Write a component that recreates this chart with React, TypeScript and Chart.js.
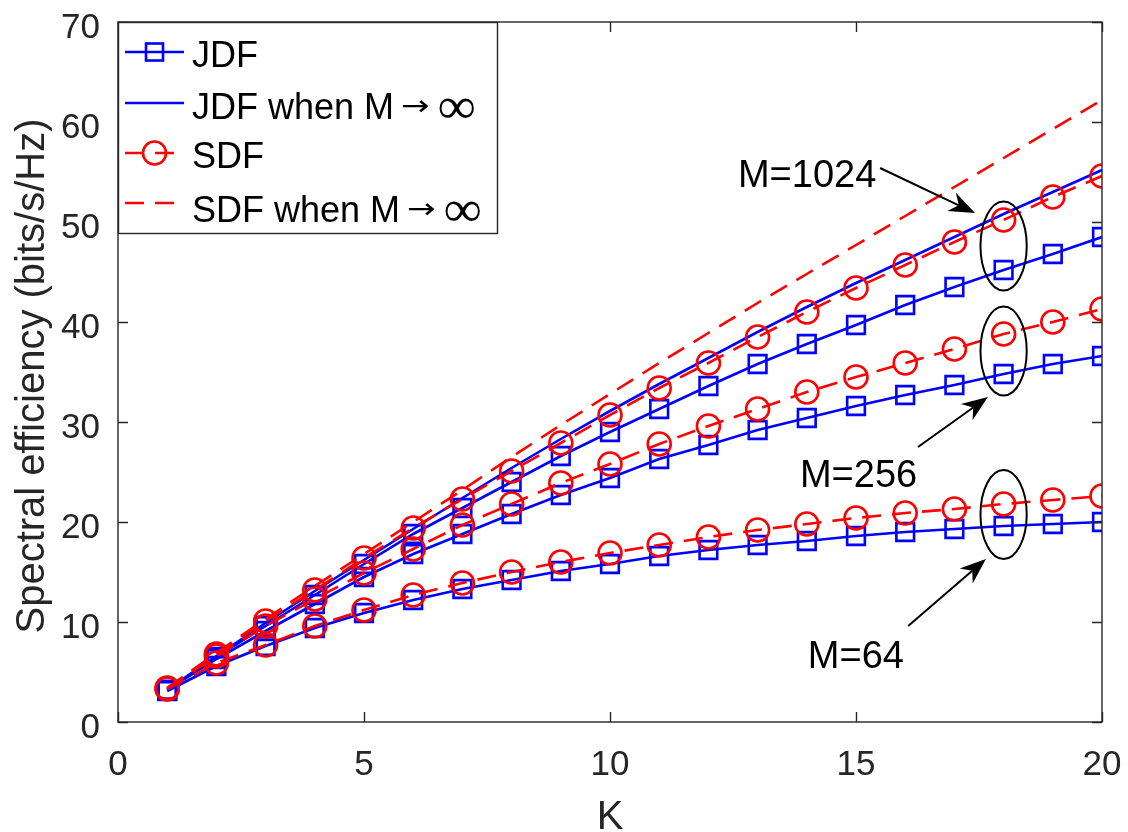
import React, { useEffect, useRef } from "react";
import { Chart, registerables } from "chart.js";

Chart.register(...registerables);

const kValues = [1, 2, 3, 4, 5, 6, 7, 8, 9, 10, 11, 12, 13, 14, 15, 16, 17, 18, 19, 20];
const jdf64 = [3.1, 5.6, 7.6, 9.4, 10.9, 12.2, 13.3, 14.2, 15.1, 15.8, 16.6, 17.2, 17.7, 18.1, 18.6, 19.0, 19.3, 19.6, 19.8, 20.0];
const sdf64 = [3.3, 5.9, 7.7, 9.6, 11.2, 12.7, 13.9, 15.0, 16.0, 16.9, 17.7, 18.5, 19.2, 19.8, 20.4, 20.9, 21.3, 21.8, 22.2, 22.6];
const jdf256 = [3.2, 6.3, 9.1, 11.8, 14.5, 16.8, 18.8, 20.8, 22.7, 24.4, 26.3, 27.7, 29.2, 30.4, 31.6, 32.7, 33.7, 34.8, 35.8, 36.6];
const sdf256 = [3.35, 6.6, 9.6, 12.3, 14.9, 17.3, 19.7, 21.8, 23.9, 25.8, 27.8, 29.6, 31.3, 33.0, 34.5, 35.9, 37.3, 38.8, 40.0, 41.3];
const jdf1024 = [3.2, 6.5, 9.6, 12.7, 15.8, 18.8, 21.4, 24.0, 26.6, 29.0, 31.3, 33.6, 35.8, 37.8, 39.7, 41.7, 43.5, 45.2, 46.8, 48.5];
const sdf1024 = [3.4, 6.8, 10.1, 13.2, 16.4, 19.4, 22.3, 25.1, 27.9, 30.7, 33.4, 35.9, 38.5, 41.0, 43.4, 45.7, 48.0, 50.2, 52.5, 54.6];
const jdfInf = [3.25, 6.6, 9.9, 13.1, 16.2, 19.3, 22.4, 25.4, 28.3, 31.1, 33.8, 36.4, 39.0, 41.5, 43.9, 46.2, 48.5, 50.8, 53.0, 55.2];
const sdfInf = [3.4, 6.9, 10.3, 13.6, 16.8, 20.0, 23.2, 26.5, 29.7, 32.8, 35.9, 38.9, 41.9, 44.8, 47.7, 50.6, 53.5, 56.4, 59.3, 62.2];

const xTicks = [0, 5, 10, 15, 20];
const yTicks = [0, 10, 20, 30, 40, 50, 60, 70];
const xTickLabels = ["0", "5", "10", "15", "20"];
const yTickLabels = ["0", "10", "20", "30", "40", "50", "60", "70"];
const xTitle = "K";
const yTitle = "Spectral efficiency (bits/s/Hz)";

const legendLabels = ["JDF", "JDF when M→∞", "SDF", "SDF when M→∞"];
const groupLabels = ["M=1024", "M=256", "M=64"];
const groupEllipseK = 18;
const groupEllipseCenters = [47.6, 37.1, 20.75];
// label anchor (K, value) and arrow start/end (K, value)
const groupLabelPos = [
  [12.6, 53.5],
  [13.86, 23.5],
  [14.02, 5.4],
];
const groupArrowFrom = [
  [15.49, 55.4],
  [16.26, 27.5],
  [16.06, 9.6],
];
const groupArrowTo = [
  [17.42, 50.9],
  [17.68, 32.5],
  [17.64, 16.3],
];

const BLUE = "#0000ff";
const RED = "#ff0000";
const AXIS = "#262626";
const SANS = '"Liberation Sans", Arial, Helvetica, sans-serif';

function toPts(arr: number[]) {
  return kValues.map((k, i) => ({ x: k, y: arr[i] }));
}

function series(label: string, arr: number[], color: string, marker: string | false, dashed: boolean) {
  return {
    label,
    data: toPts(arr),
    borderColor: color,
    backgroundColor: color,
    borderWidth: 2.6,
    borderDash: dashed ? [19, 11] : [],
    pointStyle: marker || "circle",
    pointRadius: marker ? (marker === "rect" ? 12.5 : 11.5) : 0,
    pointHoverRadius: marker ? (marker === "rect" ? 12.5 : 11.5) : 0,
    pointBorderColor: color,
    pointBorderWidth: 2.6,
    pointBackgroundColor: "rgba(0,0,0,0)",
    tension: 0,
    fill: false,
  };
}

function drawArrow(ctx: CanvasRenderingContext2D, x1: number, y1: number, x2: number, y2: number) {
  const ang = Math.atan2(y2 - y1, x2 - x1);
  const L = 26;
  const W = 10;
  const back = 18;
  const c = Math.cos(ang);
  const s = Math.sin(ang);
  ctx.beginPath();
  ctx.moveTo(x1, y1);
  ctx.lineTo(x2 - c * back, y2 - s * back);
  ctx.stroke();
  const bx = x2 - c * L;
  const by = y2 - s * L;
  const nx = -s;
  const ny = c;
  ctx.beginPath();
  ctx.moveTo(x2, y2);
  ctx.lineTo(bx + nx * W, by + ny * W);
  ctx.lineTo(x2 - c * back, y2 - s * back);
  ctx.lineTo(bx - nx * W, by - ny * W);
  ctx.closePath();
  ctx.fill();
}

// draw a single glyph so that its ink box spans inkW x inkH px, centred vertically at cy
function fitGlyph(ctx: CanvasRenderingContext2D, ch: string, font: string, x: number, cy: number, inkW: number, inkH: number) {
  ctx.font = font;
  const m = ctx.measureText(ch);
  const l = m.actualBoundingBoxLeft || 0;
  const r = m.actualBoundingBoxRight || m.width;
  const a = m.actualBoundingBoxAscent || 10;
  const d = m.actualBoundingBoxDescent || 0;
  const w = Math.max(1, l + r);
  const h = Math.max(1, a + d);
  const sx = inkW / w;
  const sy = inkH > 0 ? inkH / h : 1;
  ctx.save();
  ctx.translate(x + l * sx, cy + ((a - d) / 2) * sy);
  ctx.scale(sx, sy);
  ctx.fillText(ch, 0, 0);
  ctx.restore();
}

const decorPlugin = {
  id: "decor",
  afterDatasetsDraw(chart: any) {
    const { ctx, chartArea } = chart;
    const { left, right, top, bottom } = chartArea;
    const xs = chart.scales.x;
    const ys = chart.scales.y;
    ctx.save();

    // axes box and inward ticks
    ctx.strokeStyle = AXIS;
    ctx.lineWidth = 1.4;
    ctx.setLineDash([]);
    ctx.strokeRect(left, top, right - left, bottom - top);
    ctx.beginPath();
    xTicks.forEach((t) => {
      const px = Math.round(xs.getPixelForValue(t)) + 0.5;
      ctx.moveTo(px, bottom);
      ctx.lineTo(px, bottom - 10);
      ctx.moveTo(px, top);
      ctx.lineTo(px, top + 10);
    });
    yTicks.forEach((t) => {
      const py = Math.round(ys.getPixelForValue(t)) + 0.5;
      ctx.moveTo(left, py);
      ctx.lineTo(left + 10, py);
      ctx.moveTo(right, py);
      ctx.lineTo(right - 10, py);
    });
    ctx.stroke();

    // tick labels
    ctx.fillStyle = AXIS;
    ctx.font = `35px ${SANS}`;
    ctx.textBaseline = "alphabetic";
    ctx.textAlign = "right";
    yTicks.forEach((t, i) => {
      const py = ys.getPixelForValue(t);
      ctx.fillText(yTickLabels[i], left - 18, py + 15.5);
    });
    ctx.textAlign = "center";
    xTicks.forEach((t, i) => {
      const px = xs.getPixelForValue(t);
      ctx.fillText(xTickLabels[i], px, bottom + 53);
    });

    // axis titles
    ctx.font = `40px ${SANS}`;
    ctx.textAlign = "center";
    ctx.fillText(xTitle, (left + right) / 2, 829);
    ctx.save();
    ctx.translate(44, 376);
    ctx.rotate(-Math.PI / 2);
    ctx.fillText(yTitle, 0, 0);
    ctx.restore();

    // group annotations
    ctx.strokeStyle = "#000";
    ctx.fillStyle = "#000";
    ctx.lineWidth = 2;
    const ex = xs.getPixelForValue(groupEllipseK);
    const rx = xs.getPixelForValue(groupEllipseK + 0.47) - ex;
    groupEllipseCenters.forEach((v) => {
      const ey = ys.getPixelForValue(v);
      const ry = ys.getPixelForValue(v - 4.45) - ey;
      ctx.beginPath();
      ctx.ellipse(ex, ey, rx, ry, 0, 0, Math.PI * 2);
      ctx.stroke();
    });
    groupLabels.forEach((lab, i) => {
      const a = groupArrowFrom[i];
      const b = groupArrowTo[i];
      drawArrow(
        ctx,
        xs.getPixelForValue(a[0]),
        ys.getPixelForValue(a[1]),
        xs.getPixelForValue(b[0]),
        ys.getPixelForValue(b[1])
      );
      ctx.font = `38px ${SANS}`;
      ctx.textAlign = "left";
      ctx.textBaseline = "alphabetic";
      ctx.fillText(lab, xs.getPixelForValue(groupLabelPos[i][0]), ys.getPixelForValue(groupLabelPos[i][1]));
    });

    // legend
    const lx0 = left;
    const ly0 = top;
    const lw = 379;
    const lh = 211;
    ctx.fillStyle = "#fff";
    ctx.fillRect(lx0, ly0, lw, lh);
    ctx.strokeStyle = AXIS;
    ctx.lineWidth = 1.4;
    ctx.strokeRect(lx0 + 0.5, ly0 + 0.5, lw, lh);
    const rowLineY = [30, 81, 131, 181];
    const rowTextY = [45, 97, 146, 200];
    const styles = [
      { color: BLUE, marker: "rect", dashed: false },
      { color: BLUE, marker: "", dashed: false },
      { color: RED, marker: "circle", dashed: true },
      { color: RED, marker: "", dashed: true },
    ];
    legendLabels.forEach((lab, i) => {
      const st = styles[i];
      const ly = ly0 + rowLineY[i];
      ctx.strokeStyle = st.color;
      ctx.lineWidth = 2.6;
      ctx.setLineDash(st.dashed ? [19, 11] : []);
      ctx.beginPath();
      ctx.moveTo(lx0 + 7, ly);
      ctx.lineTo(lx0 + 66, ly);
      ctx.stroke();
      ctx.setLineDash([]);
      const mx = lx0 + 36.5;
      if (st.marker === "rect") {
        ctx.strokeRect(mx - 8.5, ly - 8.5, 17, 17);
      } else if (st.marker === "circle") {
        ctx.beginPath();
        ctx.arc(mx, ly, 11.5, 0, Math.PI * 2);
        ctx.stroke();
      }
      ctx.fillStyle = "#000";
      ctx.textAlign = "left";
      ctx.textBaseline = "alphabetic";
      const tx = lx0 + 74;
      const ty = ly0 + rowTextY[i];
      const split = lab.indexOf("→");
      if (split >= 0) {
        const head = lab.slice(0, split);
        const arrowCh = lab.slice(split, split + 1);
        const infCh = lab.slice(split + 1);
        ctx.font = `36px ${SANS}`;
        ctx.fillText(head, tx, ty);
        const w = ctx.measureText(head).width;
        const ax = tx + w + 8;
        fitGlyph(ctx, arrowCh, `30px "DejaVu Sans", sans-serif`, ax, ty - 12, 26, 13);
        fitGlyph(ctx, infCh, `34px "Liberation Serif", "DejaVu Serif", serif`, ax + 26 + 11, ty - 11.5, 35, 21);
      } else {
        ctx.font = `36px ${SANS}`;
        ctx.fillText(lab, tx, ty);
      }
    });

    ctx.restore();
  },
};

export default function App() {
  const canvasRef = useRef<HTMLCanvasElement | null>(null);

  useEffect(() => {
    document.body.style.margin = "0";
    const canvas = canvasRef.current;
    if (!canvas) return;
    const chart = new Chart(canvas, {
      type: "line",
      data: {
        datasets: [
          series(legendLabels[3], sdfInf, RED, false, true),
          series(legendLabels[2] + " 1024", sdf1024, RED, "circle", true),
          series(legendLabels[2] + " 256", sdf256, RED, "circle", true),
          series(legendLabels[2] + " 64", sdf64, RED, "circle", true),
          series(legendLabels[1], jdfInf, BLUE, false, false),
          series(legendLabels[0] + " 1024", jdf1024, BLUE, "rect", false),
          series(legendLabels[0] + " 256", jdf256, BLUE, "rect", false),
          series(legendLabels[0] + " 64", jdf64, BLUE, "rect", false),
        ] as any,
      },
      options: {
        animation: false,
        responsive: false,
        devicePixelRatio: 1,
        layout: { padding: { top: 22, right: 26, left: 0, bottom: 0 } },
        plugins: {
          legend: { display: false },
          tooltip: { enabled: false },
        },
        scales: {
          x: {
            type: "linear",
            min: 0,
            max: 20,
            afterBuildTicks: (scale: any) => {
              scale.ticks = xTicks.map((v) => ({ value: v }));
            },
            afterFit: (scale: any) => {
              scale.height = 110;
            },
            grid: { display: false, drawTicks: false },
            border: { display: false },
            ticks: { display: false },
            title: { display: false },
          },
          y: {
            type: "linear",
            min: 0,
            max: 70,
            afterBuildTicks: (scale: any) => {
              scale.ticks = yTicks.map((v) => ({ value: v }));
            },
            afterFit: (scale: any) => {
              scale.width = 118;
            },
            grid: { display: false, drawTicks: false },
            border: { display: false },
            ticks: { display: false },
            title: { display: false },
          },
        },
      } as any,
      plugins: [decorPlugin],
    });
    return () => chart.destroy();
  }, []);

  return (
    <div style={{ position: "fixed", left: 0, top: 0, width: 1128, height: 832, background: "#fff" }}>
      <canvas ref={canvasRef} width={1128} height={832} style={{ display: "block" }} />
    </div>
  );
}
